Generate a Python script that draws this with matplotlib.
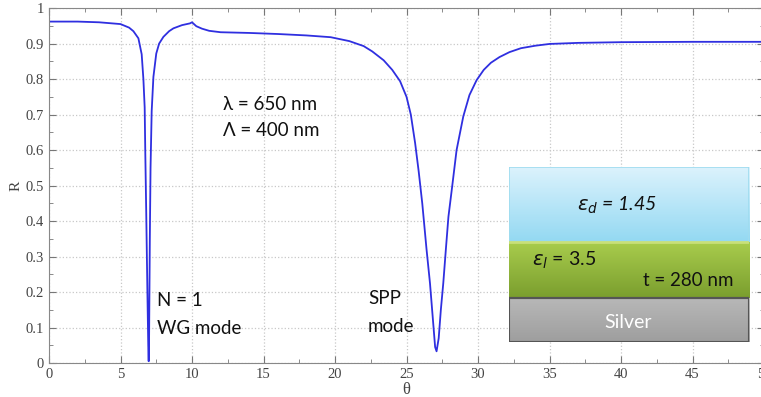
import numpy as np
import matplotlib.pyplot as plt
from matplotlib.ticker import MultipleLocator

# reflectance curve
theta = [0, 2, 3.5, 5, 5.6, 5.9, 6.25, 6.48, 6.6, 6.69, 6.73, 6.8, 6.88, 6.94, 6.97,
         7.0, 7.05, 7.1, 7.18, 7.3, 7.5, 7.7, 8.0, 8.4, 8.7, 9.3, 9.86, 10.0, 10.3,
         10.7, 11.2, 12.0, 14.0, 16.0, 18.0, 19.7, 21.0, 22.0, 22.6, 23.4, 24.0, 24.55,
         25.0, 25.3, 25.6, 25.85, 26.1, 26.4, 26.64, 26.85, 27.0, 27.1, 27.25, 27.4,
         27.57, 27.75, 27.93, 28.2, 28.5, 28.97, 29.4, 29.9, 30.4, 30.9, 31.5, 32.2,
         33.0, 34.0, 35.0, 37.0, 40.0, 45.0, 50.0]
R = [0.962, 0.962, 0.960, 0.955, 0.945, 0.935, 0.915, 0.87, 0.80, 0.72, 0.60, 0.42,
     0.20, 0.05, 0.005, 0.08, 0.35, 0.55, 0.71, 0.806, 0.872, 0.900, 0.919, 0.935,
     0.943, 0.952, 0.957, 0.960, 0.949, 0.942, 0.936, 0.932, 0.930, 0.927, 0.923,
     0.918, 0.907, 0.893, 0.878, 0.853, 0.826, 0.794, 0.75, 0.70, 0.62, 0.54, 0.45,
     0.32, 0.225, 0.12, 0.045, 0.033, 0.07, 0.15, 0.225, 0.32, 0.412, 0.50, 0.60,
     0.695, 0.755, 0.797, 0.826, 0.846, 0.862, 0.876, 0.887, 0.894, 0.899, 0.902,
     0.904, 0.905, 0.905]

plt.rcParams['font.family'] = 'Liberation Serif'

fig = plt.figure(figsize=(7.61, 3.97), dpi=100)
ax = fig.add_axes([0.0644, 0.0856, 0.9396, 0.894])
ax.plot(theta, R, color='#2f2fe0', lw=1.3)

ax.set_xlim(0, 50)
ax.set_ylim(0, 1)
ax.xaxis.set_major_locator(MultipleLocator(5))
ax.xaxis.set_minor_locator(MultipleLocator(2.5))
ax.yaxis.set_minor_locator(MultipleLocator(0.05))
ax.set_yticks(np.arange(0, 1.01, 0.1))
ax.set_yticklabels(['0', '0.1', '0.2', '0.3', '0.4', '0.5', '0.6', '0.7', '0.8', '0.9', '1'])
ax.tick_params(which='both', direction='in', top=True, right=True, color='#777777',
               labelsize=10.5, labelcolor='#444444')
ax.tick_params(which='major', length=5)
ax.tick_params(which='minor', length=3)
ax.grid(True, which='major', ls=':', color='#c8c8c8', lw=0.9)
for s in ax.spines.values():
    s.set_color('#888888')

ax.set_xlabel('θ', fontsize=12, color='#444444', labelpad=1)
ax.set_ylabel('R', fontsize=11, color='#444444', labelpad=2)

txt = dict(family='Lato', fontsize=13.5, color='#111111', va='center', ha='left')
fig.text(223 / 761, 1 - 104 / 397, 'λ = 650 nm', **txt)
fig.text(223 / 761, 1 - 131 / 397, 'Λ = 400 nm', **txt)
fig.text(157 / 761, 1 - 301 / 397, 'N = 1', **txt)
fig.text(157 / 761, 1 - 328 / 397, 'WG mode', **txt)
fig.text(368 / 761, 1 - 298 / 397, 'SPP', **txt)
fig.text(368 / 761, 1 - 326 / 397, 'mode', **txt)

# layered structure sketch
ins = fig.add_axes([509 / 761, 1 - 342 / 397, 240 / 761, 175 / 397])
ins.axis('off')

def grad(y0, y1, c0, c1):
    g = np.linspace(0, 1, 64)[:, None, None]
    img = np.array(c0)[None, None, :] * (1 - g) + np.array(c1)[None, None, :] * g
    ins.imshow(img, extent=[0, 240, y1, y0], aspect='auto', zorder=1)

grad(0, 75, (0.86, 0.95, 0.99), (0.58, 0.85, 0.95))
grad(75, 131, (0.66, 0.80, 0.30), (0.48, 0.62, 0.18))
grad(131, 175, (0.72, 0.72, 0.72), (0.62, 0.62, 0.62))
ins.plot([0, 240, 240, 0, 0], [0, 0, 75, 75, 0], color='#9fdcef', lw=1.2, zorder=2)
ins.plot([0, 240], [75, 75], color='#c8e07a', lw=2, zorder=2)
ins.plot([0, 240], [131, 131], color='#5a5a5a', lw=1.5, zorder=2)
ins.plot([0, 240, 240, 0, 0], [131, 131, 175, 175, 131], color='#555555', lw=1.5, zorder=2)
ins.set_xlim(0, 240)
ins.set_ylim(175, 0)

ins.text(108, 38, r'$\varepsilon_d$ = 1.45', family='Lato', style='italic', fontsize=14,
         ha='center', va='center', color='#111111', zorder=3)
ins.text(23, 93, r'$\varepsilon_l$ = 3.5', family='Lato', fontsize=14,
         ha='left', va='center', color='#111111', zorder=3)
ins.text(224, 113, 't = 280 nm', family='Lato', fontsize=13.5,
         ha='right', va='center', color='#111111', zorder=3)
ins.text(119, 155, 'Silver', family='Lato', fontsize=14,
         ha='center', va='center', color='white', zorder=3)

fig.savefig('out.png', dpi=100)
